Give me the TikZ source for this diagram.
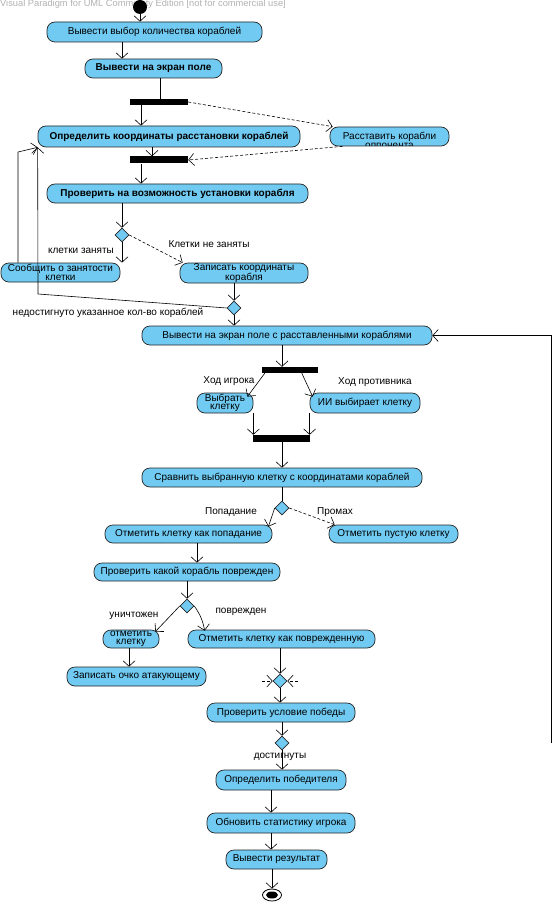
\documentclass[tikz,border=0pt]{standalone}
\usepackage{fontspec}
\setmainfont{Liberation Sans}
\usetikzlibrary{arrows.meta,shapes.geometric,calc}
\definecolor{vpblue}{RGB}{112,202,242}
\begin{document}
\begin{tikzpicture}[x=1pt,y=-1pt,
  act/.style={draw=black!85, fill=vpblue, line width=0.7pt, rounded corners=8pt, inner sep=0pt, font=\fontsize{10}{8.5}\selectfont, align=center},
  boldact/.style={act, font=\fontsize{10}{8.5}\selectfont\bfseries},
  syncbar/.style={fill=black, inner sep=0pt},
  decision/.style={diamond, draw=black!85, fill=vpblue, line width=0.6pt, inner sep=0pt, minimum width=14pt, minimum height=14pt},
  flow/.style={-{Straight Barb[length=5.5pt,width=12pt]}, line width=0.6pt},
  plainflow/.style={line width=0.6pt},
  dflow/.style={flow, dash pattern=on 3pt off 2pt},
  lbl/.style={font=\fontsize{10}{10}\selectfont, inner sep=0pt},
]
\path[fill=white, use as bounding box] (0,0) rectangle (558,904);

% watermark
\node[anchor=west, font=\fontsize{9.3}{9}\selectfont, text=black!30, inner sep=0pt] (wm) at (0,4) {Visual Paradigm for UML Community Edition [not for commercial use]};

% column coordinates
\coordinate (c18) at (18,152);
\coordinate (c38) at (38,294);
\coordinate (c122) at (122,0);
\coordinate (c141) at (141,0);
\coordinate (c152) at (152,0);
\coordinate (c160) at (160,0);
\coordinate (c197) at (197,0);
\coordinate (c129) at (129,0);
\coordinate (c271) at (271,0);
\coordinate (c282) at (282,0);
\coordinate (loop) at (551,743);
\coordinate (s1) at (262,681);
\coordinate (s2) at (298,681);

% nodes
\node[circle, fill=black, minimum size=14pt, inner sep=0pt] (init) at (140,7) {};
\node[act, minimum width=215pt, minimum height=20pt] (A) at (154.5,32) {Вывести выбор количества кораблей};
\node[boldact, minimum width=137pt, minimum height=19pt] (B) at (153.5,68.5) {Вывести на экран поле};
\node[syncbar, minimum width=58pt, minimum height=6pt] (b1) at (159,102) {};
\node[boldact, minimum width=262pt, minimum height=21pt] (C) at (169,136.5) {Определить координаты расстановки кораблей};
\node[act, minimum width=119pt, minimum height=19pt,
  path picture={\node[font=\fontsize{10}{9}\selectfont, align=center] at ([yshift=-4pt]path picture bounding box.center) {Расставить корабли\\оппонента};}] (D) at (389.5,136.5) {};
\node[syncbar, minimum width=58pt, minimum height=7pt] (b2) at (159,160) {};
\node[boldact, minimum width=261pt, minimum height=19pt] (E) at (177.5,193.5) {Проверить на возможность установки корабля};
\node[decision] (d1) at (122,235) {};
\node[act, minimum width=119pt, minimum height=19pt] (F) at (60.5,272.5) {Сообщить о занятости\\клетки};
\node[act, minimum width=128pt, minimum height=20pt] (G) at (244,273) {Записать координаты\\корабля};
\node[decision] (d2) at (234,308) {};
\node[act, minimum width=290pt, minimum height=19pt] (H) at (287,335.5) {Вывести на экран поле с расставленными кораблями};
\node[syncbar, minimum width=56pt, minimum height=6pt] (b3) at (290,370) {};
\node[act, minimum width=56pt, minimum height=20pt] (I) at (225,403) {Выбрать\\клетку};
\node[act, minimum width=110pt, minimum height=20pt] (J) at (365,403) {ИИ выбирает клетку};
\node[syncbar, minimum width=57pt, minimum height=7pt] (b4) at (281.5,438.5) {};
\node[act, minimum width=280pt, minimum height=19pt] (K) at (282,477.5) {Сравнить выбранную клетку с координатами кораблей};
\node[decision] (d4) at (282,508) {};
\node[act, minimum width=167pt, minimum height=18pt] (L) at (188.5,534) {Отметить клетку как попадание};
\node[act, minimum width=129pt, minimum height=18pt] (M) at (393.5,534) {Отметить пустую клетку};
\node[act, minimum width=186pt, minimum height=18pt] (N) at (187,572) {Проверить какой корабль поврежден};
\node[decision] (d5) at (187,606) {};
\node[act, minimum width=56pt, minimum height=18pt] (O) at (131,639) {отметить\\клетку};
\node[act, minimum width=187pt, minimum height=18pt] (P) at (281.5,639) {Отметить клетку как поврежденную};
\node[act, minimum width=139pt, minimum height=19pt] (Q) at (136.5,676.5) {Записать очко атакующему};
\node[decision] (d6) at (280,681) {};
\node[act, minimum width=148pt, minimum height=19pt] (R) at (281,712.5) {Проверить условие победы};
\node[decision] (d3) at (282,743) {};
\node[act, minimum width=130pt, minimum height=20pt] (S) at (281,780) {Определить победителя};
\node[act, minimum width=148pt, minimum height=20pt] (T) at (281,823) {Обновить статистику игрока};
\node[act, minimum width=101pt, minimum height=19pt] (U) at (276.5,859.5) {Вывести результат};
\node[ellipse, draw=black, line width=0.8pt, fill=white, minimum width=19pt, minimum height=12pt, inner sep=0pt] (fin) at (272,895) {};
\fill[black] (fin.center) ellipse [x radius=6, y radius=3.5];

% connectors
\draw[flow] (init) -- (init |- A.north);
\draw[flow] (A.south -| c122) -- (B.north -| c122);
\draw[plainflow] (B.south -| c160) -- (b1.north -| c160);
\draw[flow] (b1.south -| c141) -- (C.north -| c141);
\draw[dflow] (b1.east) -- ([xshift=3pt]D.north west);
\draw[flow] (C.south -| c152) -- (b2.north -| c152);
\draw[dflow] ([xshift=13pt]D.south west) -- (b2.east);
\draw[flow] (b2.south -| c141) -- (E.north -| c141);
\draw[flow] (E.south -| d1) -- (d1.north);
\draw[flow] (d1.south) -- (d1.south |- F.north);
\node[lbl] (l1) at (81,251) {клетки заняты};
\draw[dflow] (d1.east) -- ([xshift=3pt]G.north west);
\node[lbl] (l2) at (209,244) {Клетки не заняты};
\draw[flow] (G.south -| d2) -- (d2.north);
\draw[flow] (F.north -| c18) -- (c18) -- (C.south west);
\draw[flow] (d2.west) -- (c38) -- (C.south west);
\node[lbl] (l3) at (108,313) {недостигнуто указанное кол-во кораблей};
\draw[flow] (d2.south) -- (d2.south |- H.north);
\draw[flow] (loop) -- (loop |- H.east) -- (H.east);
\draw[flow] (H.south -| c282) -- (b3.north -| c282);
\draw[flow] ([xshift=3pt]b3.south west) -- ([xshift=-6pt,yshift=-4pt]I.north east);
\node[lbl] (l4) at (229,381) {Ход игрока};
\draw[flow] ([xshift=40pt]b3.south west) -- ([xshift=3pt,yshift=-4pt]J.north west);
\node[lbl] (l5) at (375,382) {Ход противника};
\draw[flow] (I.south east) -- (I.south east |- b4.north);
\draw[flow] (J.south west) -- (J.south west |- b4.north);
\draw[flow] (b4.south -| c282) -- (K.north -| c282);
\draw[plainflow] (K.south -| d4) -- (d4.north);
\draw[flow] (d4.west) -- ([xshift=-4pt,yshift=-2pt]L.north east);
\node[lbl] (l6) at (231,512) {Попадание};
\draw[dflow] (d4.east) -- ([xshift=6pt]M.north west);
\node[lbl] (l7) at (335,512) {Промах};
\draw[flow] (L.south -| c197) -- (N.north -| c197);
\draw[flow] (N.south -| d5) -- (d5.north);
\draw[flow] (d5.west) -- ([xshift=-4pt,yshift=-2pt]O.north east);
\node[lbl] (l8) at (134,616) {уничтожен};
\draw[flow] (d5.east) to[bend left=12] ([xshift=17pt,yshift=-1pt]P.north west);
\node[lbl] (l9) at (241,612) {поврежден};
\draw[flow] (O.south -| c129) -- (Q.north -| c129);
\draw[flow] (P.south -| d6) -- (d6.north);
\draw[dflow] (s1) -- (d6.west);
\draw[dflow] (s2) -- (d6.east);
\draw[flow] (d6.south) -- (d6.south |- R.north);
\draw[flow] (R.south -| d3) -- (d3.north);
\draw[flow] (d3.south) -- (d3.south |- S.north);
\node[lbl] (l10) at (280,757) {достигнуты};
\draw[flow] (S.south -| c271) -- (T.north -| c271);
\draw[flow] (T.south -| c271) -- (U.north -| c271);
\draw[flow] (U.south -| fin) -- (fin.north);
\end{tikzpicture}
\end{document}
